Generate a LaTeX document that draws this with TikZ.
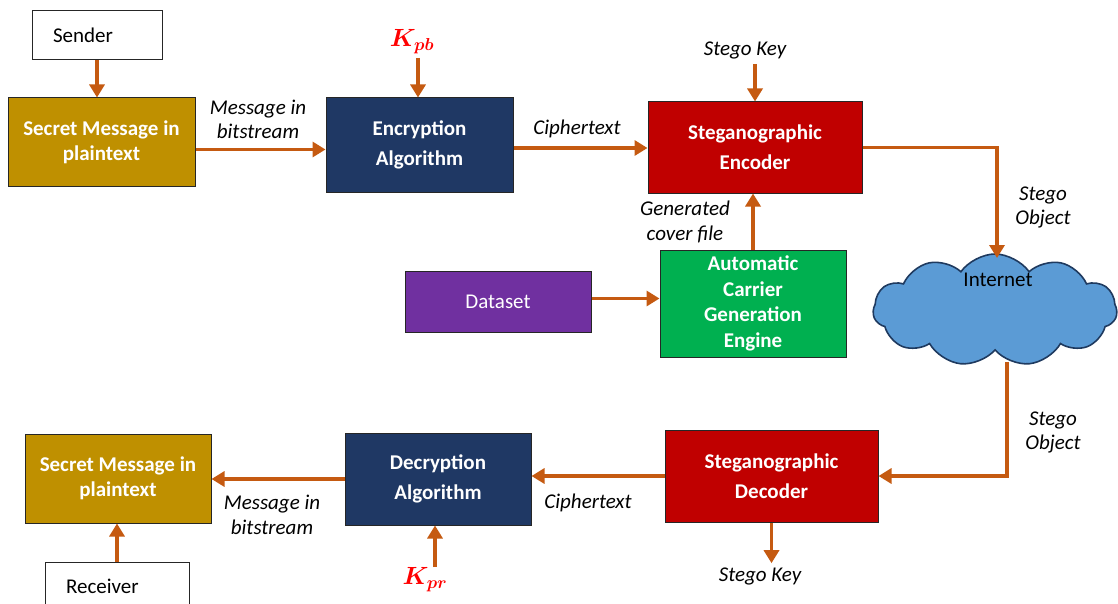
\documentclass[tikz,border=0pt]{standalone}
\usepackage{fontspec}
\usepackage{bm}
\setmainfont{Carlito}
\usetikzlibrary{shapes.symbols,arrows.meta}
\definecolor{arr}{HTML}{C55A11}
\definecolor{gold}{HTML}{BF9000}
\definecolor{navy}{HTML}{1F3864}
\definecolor{stegored}{HTML}{C00000}
\definecolor{carrier}{HTML}{00B050}
\definecolor{datapurple}{HTML}{7030A0}
\definecolor{cloudfill}{HTML}{5B9BD5}
\definecolor{cloudline}{HTML}{1F3A5F}
\begin{document}
\begin{tikzpicture}[x=1pt,y=-1pt,
  box/.style={draw=black!85,line width=1pt,inner sep=0pt,align=center,
    font=\fontsize{21}{25}\selectfont},
  proc/.style={box,text=white,font=\fontsize{21}{25.5}\selectfont\bfseries},
  tallproc/.style={proc,font=\fontsize{21}{30}\selectfont\bfseries},
  party/.style={draw=black!85,line width=1pt,fill=white,inner ysep=0pt,inner xsep=21pt,
    align=left,font=\fontsize{21}{24}\selectfont},
  flow/.style={draw=arr,line width=3.5pt,-{Triangle[length=13pt,width=15pt]}},
  lbl/.style={font=\fontsize{21}{24.5}\selectfont\itshape,align=center,inner sep=1pt},
  key/.style={text=red,font=\fontsize{24}{26}\selectfont,inner sep=1pt}]
\useasboundingbox (0,0) rectangle (1118,604);

% ---- sending side ----
\node[party,text width=88pt,minimum height=49pt] (sender) at (97,35.5) {Sender};
\node[proc,fill=gold,minimum width=187pt,minimum height=89pt] (sm1) at (101.5,142.5) {Secret Message in\\plaintext};
\node[tallproc,fill=navy,minimum width=187pt,minimum height=94pt] (encr) at (419.5,145) {Encryption\\Algorithm};
\node[tallproc,fill=stegored,minimum width=214pt,minimum height=91pt] (enc) at (755,147.5) {Steganographic\\Encoder};
\node[proc,fill=carrier,minimum width=186pt,minimum height=107pt] (acge) at (753,303.5) {Automatic\\Carrier\\Generation\\Engine};
\node[box,fill=datapurple,text=white,minimum width=186pt,minimum height=61pt] (data) at (498,301.5) {Dataset};

\node[key] (kpb) at (412,42) {$\bm{K_{pb}}$};
\coordinate (kpbfoot) at (418,58);
\node[lbl] (skey1) at (745,50) {Stego Key};

\node[lbl] at (258,119.5) {Message in\\bitstream};
\node[lbl] at (577,129) {Ciphertext};
\node[lbl] at (685,222) {Generated\\cover file};
\node[lbl] at (1043,207.5) {Stego\\Object};

% ---- network ----
\node[cloud,cloud puffs=11,cloud puff arc=110,aspect=2.3,fill=cloudfill,draw=cloudline,
  line width=1.6pt,minimum width=244pt,minimum height=112pt,inner sep=0pt] (net) at (995,310) {};
\node[font=\fontsize{21}{24}\selectfont] (netlbl) at (998,280) {Internet};
\coordinate (nettop) at (997,258);
\coordinate (netbot) at (1007,362);

% ---- receiving side ----
\node[tallproc,fill=stegored,minimum width=213pt,minimum height=92pt] (dec) at (771.5,476) {Steganographic\\Decoder};
\node[tallproc,fill=navy,minimum width=186pt,minimum height=92pt] (decr) at (438,479) {Decryption\\Algorithm};
\node[proc,fill=gold,minimum width=186pt,minimum height=89pt] (sm2) at (118,478.5) {Secret Message in\\plaintext};
\node[party,text width=102pt,minimum height=48pt] (recv) at (117,586) {Receiver};

\node[key] (kpr) at (425,580) {$\bm{K_{pr}}$};
\coordinate (kprhead) at (435,567);
\node[lbl] (skey2) at (760,576) {Stego Key};

\node[lbl] at (1053,432.5) {Stego\\Object};
\node[lbl] at (588,503) {Ciphertext};
\node[lbl] at (272,515) {Message in\\bitstream};

% ---- connectors ----
\draw[flow] (sender.south) -- (sender.south |- sm1.north);
\draw[flow] ([yshift=-7pt]sm1.east) -- ([yshift=-7pt]sm1.east -| encr.west);
\draw[flow] (kpbfoot) -- (kpbfoot |- encr.north);
\draw[flow] ([yshift=-3pt]encr.east) -- ([yshift=-3pt]encr.east -| enc.west);
\draw[flow] ([yshift=-4pt]skey1.south -| enc.north) -- (enc.north);
\draw[flow] (acge.north) -- (acge.north |- enc.south);
\draw[flow] ([yshift=3pt]data.east) -- ([yshift=3pt]data.east -| acge.west);
\draw[flow] (enc.east) -| (nettop);
\draw[flow] (netbot) |- (dec.east);
\draw[flow] (dec.south) -- ([yshift=3pt]dec.south |- skey2.north);
\draw[flow] (dec.west) -- (dec.west -| decr.east);
\draw[flow] (decr.west) -- (decr.west -| sm2.east);
\draw[flow] (kprhead) -- (kprhead |- decr.south);
\draw[flow] (recv.north) -- (recv.north |- sm2.south);
\end{tikzpicture}
\end{document}
